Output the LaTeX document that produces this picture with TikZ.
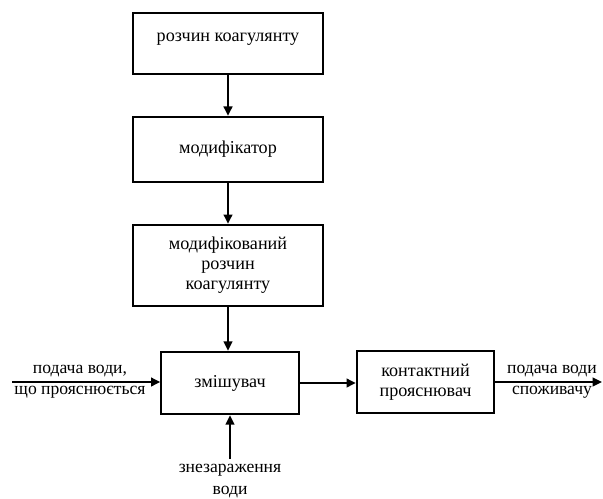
\documentclass[tikz,border=0pt]{standalone}
\usepackage{fontspec}
\setmainfont{Liberation Serif}
\usetikzlibrary{arrows.meta, positioning}

\begin{document}
\begin{tikzpicture}[
    x=0.75pt, y=-0.75pt,
    block/.style={rectangle, draw, line width=1.5pt, minimum width=142pt, align=center, font=\rmfamily\fontsize{13.6}{15}\selectfont},
    small/.style={block, minimum width=103pt, minimum height=47pt},
    lbl/.style={align=center, inner sep=0pt, font=\rmfamily\fontsize{13.2}{16}\selectfont},
    flow/.style={line width=1.5pt, -{Triangle[length=7pt, width=6.5pt]}}
]
    \useasboundingbox (0,0) rectangle (603,499);

    \node[block, minimum height=46pt, text depth=10pt] (coag) at (228, 43.5) {розчин коагулянту};
    \node[block, minimum height=49pt] (modif) at (228, 149.5) {модифікатор};
    \node[block, minimum height=61pt] (modcoag) at (228, 265.5) {модифікований\\розчин\\коагулянту};

    \node[small] (mixer) at (230, 383) {змішувач};
    \node[small] (clarif) at (425.5, 382) {контактний\\прояснювач};

    \coordinate (inlet) at (12, 382);
    \coordinate (disinf) at (230, 459);
    \coordinate (outlet) at (602, 382);

    \node[lbl] (inlbl) at (80, 382) {подача води,\\що прояснюється};
    \node[lbl] (dislbl) at (230, 481) {знезараження\\води};
    \node[lbl] (outlbl) at (552, 382) {подача води\\споживачу};

    \draw[flow] (coag) -- (modif);
    \draw[flow] (modif) -- (modcoag);
    \draw[flow] (modcoag.south) -- (mixer.north -| modcoag.south);
    \draw[flow] (inlet) -- (mixer.west |- inlet);
    \draw[flow] (disinf) -- (mixer.south);
    \draw[flow] (mixer) -- (clarif.west |- mixer);
    \draw[flow] (clarif.east |- outlet) -- (outlet);

\end{tikzpicture}
\end{document}
